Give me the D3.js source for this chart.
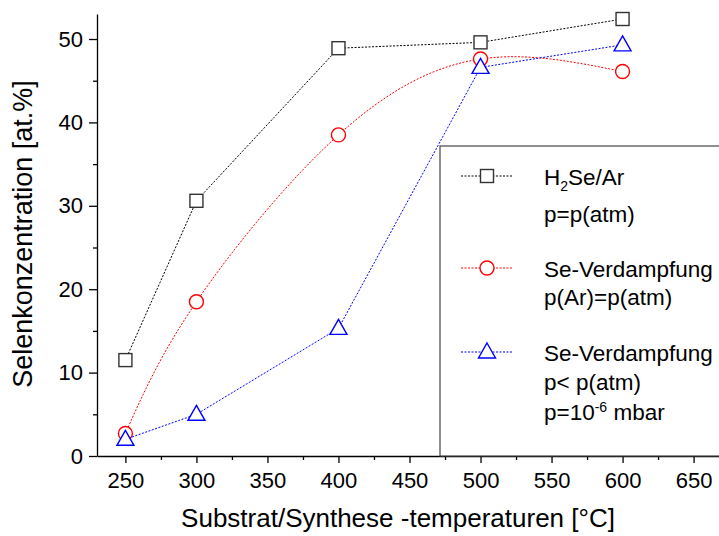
<!DOCTYPE html>
<html lang="en">
<head>
    <meta charset="UTF-8">
    <title>Selenkonzentration</title>
    <script src="https://d3js.org/d3.v7.min.js"></script>
    <style>
        body{ margin:0; background:white; }
        svg{ font-family: "Liberation Sans", Arial, sans-serif; }
        .axis path, .axis line{ stroke:black; stroke-width:1.3px; }
        .axis text{ font-size:22px; fill:black; font-family: "Liberation Sans", Arial, sans-serif; }
        .leg{ font-size:22.5px; fill:black; }
    </style>
</head>
<body>
<svg id="canvas" width="719" height="536"></svg>
<script>
    // data
    let temps = [250, 300, 400, 500, 600];
    let h2se = [11.5, 30.6, 48.9, 49.6, 52.4];
    let seAtm = [2.7, 18.5, 38.5, 47.6, 46.1];
    let seVac = [2.0, 5.0, 15.3, 46.6, 49.3];
    let xTicks = [250, 300, 350, 400, 450, 500, 550, 600, 650];
    let yTicks = [0, 10, 20, 30, 40, 50];

    let svg = d3.select('svg');
    let plotL = 97, plotR = 722, plotT = 14, plotB = 456;

    let x = d3.scaleLinear().domain([230, 670]).range([plotL, plotR]);
    let y = d3.scaleLinear().domain([0, 53]).range([plotB, plotT]);

    // axes, major + minor
    svg.append('g').attr('class','axis').attr('transform','translate(0,'+plotB+')')
        .call(d3.axisBottom(x).tickValues(xTicks).tickSize(7).tickSizeOuter(0).tickPadding(9));
    svg.append('g').attr('class','axis').attr('transform','translate(0,'+plotB+')')
        .call(d3.axisBottom(x).tickValues(d3.range(275, 670, 50)).tickSize(4).tickSizeOuter(0).tickFormat(''))
        .select('.domain').remove();
    svg.append('g').attr('class','axis').attr('transform','translate('+plotL+',0)')
        .call(d3.axisLeft(y).tickValues(yTicks).tickSize(8).tickSizeOuter(0).tickPadding(6));
    svg.append('g').attr('class','axis').attr('transform','translate('+plotL+',0)')
        .call(d3.axisLeft(y).tickValues([5, 15, 25, 35, 45]).tickSize(4).tickSizeOuter(0).tickFormat(''))
        .select('.domain').remove();

    svg.append('text').attr('x', 398).attr('y', 527).attr('text-anchor','middle')
        .style('font-size','26px').text('Substrat/Synthese -temperaturen [°C]');
    svg.append('text').attr('transform','translate(32,234) rotate(-90)').attr('text-anchor','middle')
        .style('font-size','27px').text('Selenkonzentration [at.%]');

    let series = [
        {vals: h2se, color:'black', curve: d3.curveLinear, shape:'square'},
        {vals: seAtm, color:'#ff0000', curve: d3.curveNatural, shape:'circle'},
        {vals: seVac, color:'#0000ff', curve: d3.curveLinear, shape:'triangle'}
    ];

    function marker(g, shape, color, cx, cy){
        if(shape === 'square'){
            g.append('rect').attr('x', cx-6.5).attr('y', cy-6.5).attr('width',13).attr('height',13)
                .attr('fill','white').attr('stroke','#333').attr('stroke-width',1.4);
        } else if(shape === 'circle'){
            g.append('circle').attr('cx', cx).attr('cy', cy).attr('r', 7)
                .attr('fill','white').attr('stroke',color).attr('stroke-width',1.4);
        } else {
            g.append('path').attr('d', 'M'+cx+','+(cy-9)+'L'+(cx+8.5)+','+(cy+6)+'L'+(cx-8.5)+','+(cy+6)+'Z')
                .attr('fill','white').attr('stroke',color).attr('stroke-width',1.4);
        }
    }

    // legend box (drawn below the data)
    svg.append('rect').attr('x', 440).attr('y', 146).attr('width', 300).attr('height', plotB-146)
        .attr('fill','white').attr('stroke','#444').attr('stroke-width',1.2);

    series.forEach(function(s){
        let line = d3.line().curve(s.curve)
            .x(function(d,i){ return x(temps[i]); })
            .y(function(d){ return y(d); });
        svg.append('path').datum(s.vals).attr('d', line).attr('fill','none')
            .attr('stroke', s.color).attr('stroke-width',1).attr('stroke-dasharray','2,1.5');
        let g = svg.append('g');
        s.vals.forEach(function(v,i){ marker(g, s.shape, s.color, x(temps[i]), y(v)); });
    });

    // legend entries
    let legRows = [176, 268, 352];
    series.forEach(function(s, i){
        svg.append('line').attr('x1',461).attr('x2',513).attr('y1',legRows[i]).attr('y2',legRows[i])
            .attr('stroke', s.color).attr('stroke-width',1).attr('stroke-dasharray','2,1.5');
        marker(svg, s.shape, s.color, 487, legRows[i]);
    });
    let t1 = svg.append('text').attr('class','leg').attr('x',544).attr('y',185);
    t1.append('tspan').text('H');
    t1.append('tspan').attr('dy',6).style('font-size','14px').text('2');
    t1.append('tspan').attr('dy',-6).text('Se/Ar');
    svg.append('text').attr('class','leg').attr('x',544).attr('y',222).text('p=p(atm)');
    svg.append('text').attr('class','leg').attr('x',544).attr('y',277).text('Se-Verdampfung');
    svg.append('text').attr('class','leg').attr('x',544).attr('y',305).text('p(Ar)=p(atm)');
    svg.append('text').attr('class','leg').attr('x',544).attr('y',361).text('Se-Verdampfung');
    svg.append('text').attr('class','leg').attr('x',544).attr('y',390).text('p< p(atm)');
    let t2 = svg.append('text').attr('class','leg').attr('x',544).attr('y',420);
    t2.append('tspan').text('p=10');
    t2.append('tspan').attr('dy',-8).style('font-size','14px').text('-6');
    t2.append('tspan').attr('dy',8).text(' mbar');
</script>
</body>
</html>
